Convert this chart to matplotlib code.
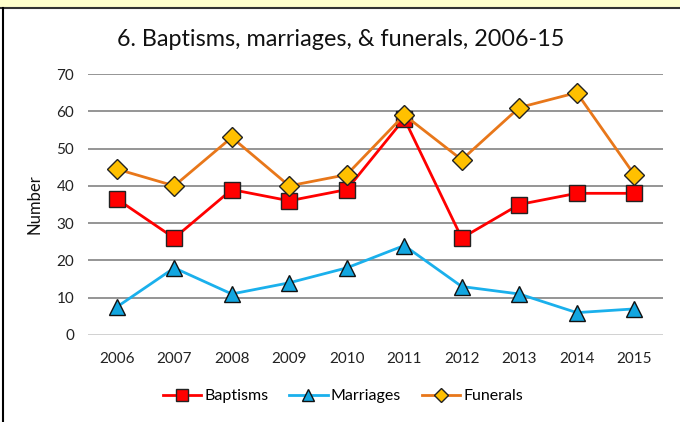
import matplotlib
matplotlib.use("Agg")
import matplotlib.pyplot as plt
from matplotlib.patches import Rectangle
from matplotlib.lines import Line2D

years = ['2006', '2007', '2008', '2009', '2010', '2011', '2012', '2013', '2014', '2015']
baptisms = [36.5, 26, 39, 36, 39, 58, 26, 35, 38, 38]
marriages = [7.5, 18, 11, 14, 18, 24, 13, 11, 6, 7]
funerals = [44.5, 40, 53, 40, 43, 59, 47, 61, 65, 43]

plt.rcParams['font.family'] = ['Lato', 'DejaVu Sans']

fig = plt.figure(figsize=(6.8, 4.22), dpi=100)
fig.patches.append(Rectangle((0, 1 - 7 / 422), 1, 7 / 422, transform=fig.transFigure,
                             facecolor='#FFFFCC', edgecolor='none', zorder=0))
fig.lines.append(Line2D([0, 1], [1 - 8 / 422, 1 - 8 / 422], transform=fig.transFigure,
                        color='#333333', lw=1.5))
fig.lines.append(Line2D([2.5 / 680, 2.5 / 680], [0, 1 - 8 / 422], transform=fig.transFigure,
                        color='black', lw=1.5))

ax = fig.add_axes([88 / 680, 1 - 335 / 422, 575 / 680, 261 / 422])
x = range(len(years))

ax.plot(x, baptisms, color='#FF0000', lw=2, marker='s', markersize=11,
        markerfacecolor='#FF0000', markeredgecolor='#222222', markeredgewidth=1, label='Baptisms', zorder=3)
ax.plot(x, marriages, color='#1AB0EC', lw=2, marker='^', markersize=12,
        markerfacecolor='#12A6E0', markeredgecolor='#111111', markeredgewidth=1, label='Marriages', zorder=3)
ax.plot(x, funerals, color='#E8771A', lw=2, marker='D', markersize=10,
        markerfacecolor='#FFC000', markeredgecolor='#222222', markeredgewidth=1, label='Funerals', zorder=4)

ax.set_xlim(-0.5, len(years) - 0.5)
ax.set_ylim(0, 70)
ax.set_yticks(range(0, 71, 10))
ax.set_xticks(list(x))
ax.set_xticklabels(years)
ax.tick_params(axis='both', length=0, labelsize=11, colors='#222222')
ax.tick_params(axis='x', pad=12)
ax.tick_params(axis='y', pad=10)
for s in ax.spines.values():
    s.set_visible(False)
ax.yaxis.grid(True, color='#8C8C8C', lw=1.3)
ax.axhline(0, color='#D9D9D9', lw=1.3, zorder=2)
ax.set_axisbelow(True)
ax.set_ylabel('Number', fontsize=12, color='#111111', labelpad=10)

fig.text(341 / 680, 1 - 40 / 422, '6. Baptisms, marriages, & funerals, 2006-15',
         ha='center', va='center', fontsize=16.8, color='#111111')

fig.legend(loc='center', bbox_to_anchor=(343 / 680, 1 - 396 / 422), ncol=3, frameon=False,
           fontsize=11.5, handlelength=2.4, columnspacing=1.3, handletextpad=0.2, markerscale=0.75)

fig.savefig('out.png', dpi=100)
